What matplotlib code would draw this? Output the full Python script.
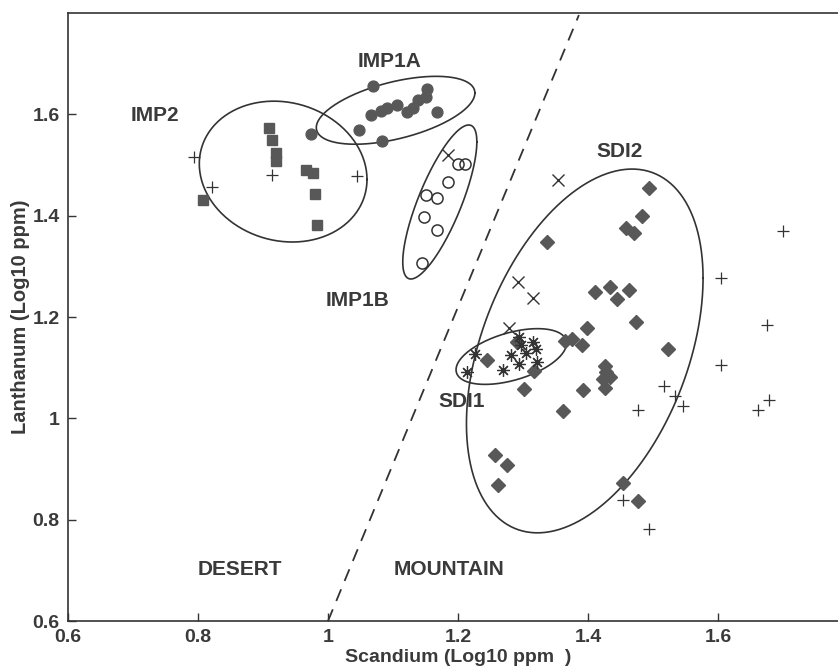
import numpy as np
import matplotlib
matplotlib.use("Agg")
import matplotlib.pyplot as plt

plt.rcParams["font.family"] = ["Liberation Sans", "DejaVu Sans"]

# Sample groups, Scandium vs Lanthanum (both Log10 ppm)
imp2_sc = [0.909, 0.914, 0.920, 0.920, 0.966, 0.977, 0.980, 0.983, 0.808]
imp2_la = [1.574, 1.549, 1.523, 1.507, 1.491, 1.485, 1.442, 1.382, 1.430]

imp1a_sc = [1.069, 0.974, 1.048, 1.083, 1.066, 1.082, 1.091, 1.106, 1.122,
            1.131, 1.138, 1.151, 1.152, 1.168]
imp1a_la = [1.655, 1.562, 1.570, 1.547, 1.598, 1.606, 1.612, 1.618, 1.604,
            1.612, 1.628, 1.634, 1.650, 1.604]

imp1b_sc = [1.200, 1.211, 1.185, 1.151, 1.168, 1.148, 1.168, 1.145]
imp1b_la = [1.501, 1.501, 1.467, 1.440, 1.434, 1.398, 1.372, 1.307]

sdi1_sc = [1.226, 1.214, 1.282, 1.294, 1.269, 1.294, 1.305, 1.315, 1.320,
           1.322, 1.297]
sdi1_la = [1.127, 1.091, 1.125, 1.107, 1.095, 1.160, 1.129, 1.150, 1.137,
           1.111, 1.145]

sdi2_sc = [1.494, 1.483, 1.458, 1.471, 1.337, 1.411, 1.434, 1.445, 1.463,
           1.474, 1.398, 1.365, 1.375, 1.391, 1.523, 1.245, 1.317, 1.302,
           1.426, 1.428, 1.434, 1.423, 1.426, 1.392, 1.362, 1.257, 1.275,
           1.262, 1.454, 1.477, 1.291]
sdi2_la = [1.455, 1.400, 1.376, 1.366, 1.349, 1.250, 1.259, 1.236, 1.253,
           1.190, 1.178, 1.152, 1.156, 1.145, 1.137, 1.115, 1.093, 1.057,
           1.103, 1.091, 1.081, 1.077, 1.059, 1.055, 1.014, 0.927, 0.907,
           0.869, 0.873, 0.836, 1.150]

# unassigned samples
cross_sc = [1.185, 1.354, 1.292, 1.315, 1.278]
cross_la = [1.519, 1.471, 1.269, 1.238, 1.178]

plus_sc = [0.794, 0.821, 0.914, 1.045, 1.700, 1.605, 1.675, 1.605, 1.517,
           1.534, 1.546, 1.477, 1.662, 1.678, 1.454, 1.494]
plus_la = [1.515, 1.457, 1.481, 1.479, 1.370, 1.277, 1.184, 1.105, 1.063,
           1.044, 1.024, 1.016, 1.016, 1.036, 0.838, 0.782]

# group ellipses: centre, half-width, half-height, correlation
ell_name = ["IMP2", "IMP1A", "IMP1B", "SDI1", "SDI2"]
ell_cx = [0.931, 1.104, 1.172, 1.282, 1.395]
ell_cy = [1.487, 1.608, 1.427, 1.122, 1.133]
ell_sx = [0.129, 0.122, 0.057, 0.085, 0.182]
ell_sy = [0.139, 0.067, 0.152, 0.055, 0.359]
ell_rho = [-0.11, 0.51, 0.78, 0.475, 0.40]

# desert / mountain boundary
bound_sc = [1.0, 1.386]
bound_la = [0.6, 1.796]

ink = "#333333"
txt = "#3a3a3a"
mark = "#585858"

fig = plt.figure(figsize=(8.38, 6.71), dpi=100)
ax = fig.add_axes([68 / 838, 50 / 671, 780 / 838, 608 / 671])

t = np.linspace(0, 2 * np.pi, 300)
for cx, cy, sx, sy, r in zip(ell_cx, ell_cy, ell_sx, ell_sy, ell_rho):
    ex = cx + sx * np.cos(t)
    ey = cy + sy * (r * np.cos(t) + np.sqrt(1 - r * r) * np.sin(t))
    ax.plot(ex, ey, color=ink, lw=1.2)

ax.plot(bound_sc, bound_la, color=ink, lw=1.3, dashes=(7, 5))

ax.plot(imp2_sc, imp2_la, "s", ms=7.5, color=mark, mec=mark)
ax.plot(imp1a_sc, imp1a_la, "o", ms=7.8, color=mark, mec=mark)
ax.plot(imp1b_sc, imp1b_la, "o", ms=8, mfc="none", mec=ink, mew=1.1)
ax.plot(sdi2_sc, sdi2_la, "D", ms=7, color=mark, mec=mark)
ax.plot(sdi1_sc, sdi1_la, marker=(8, 2, 0), ls="none", ms=9, mec=ink, mew=0.9)
ax.plot(cross_sc, cross_la, "x", ms=8, mec=ink, mew=1.0)
ax.plot(plus_sc, plus_la, "+", ms=9, mec=ink, mew=0.9)

lab = dict(fontsize=15, color=txt, fontweight="bold", ha="center", va="center")
ax.text(1.094, 1.705, "IMP1A", **lab)
ax.text(0.734, 1.598, "IMP2", **lab)
ax.text(1.046, 1.232, "IMP1B", **lab)
ax.text(1.448, 1.527, "SDI2", **lab)
ax.text(1.206, 1.034, "SDI1", **lab)
ax.text(0.865, 0.701, "DESERT", **lab)
ax.text(1.186, 0.701, "MOUNTAIN", **lab)

ax.set_xlim(0.6, 1.8)
ax.set_ylim(0.6, 1.8)
ticks = [0.6, 0.8, 1.0, 1.2, 1.4, 1.6]
ticklabels = ["0.6", "0.8", "1", "1.2", "1.4", "1.6"]
ax.set_xticks(ticks)
ax.set_xticklabels(ticklabels)
ax.set_yticks(ticks)
ax.set_yticklabels(ticklabels)
ax.tick_params(direction="in", length=6, width=1, labelsize=14,
               colors=ink, labelcolor=txt, pad=6)
for lbl in ax.get_xticklabels() + ax.get_yticklabels():
    lbl.set_fontweight("bold")
for sp in ax.spines.values():
    sp.set_color(ink)
    sp.set_linewidth(1.2)

ax.set_xlabel("Scandium (Log10 ppm  )", fontsize=14, color=txt,
              fontweight="bold", labelpad=2)
ax.set_ylabel("Lanthanum (Log10 ppm)", fontsize=14.5, color=txt,
              fontweight="bold", labelpad=2)

fig.savefig("out.png", dpi=100)
